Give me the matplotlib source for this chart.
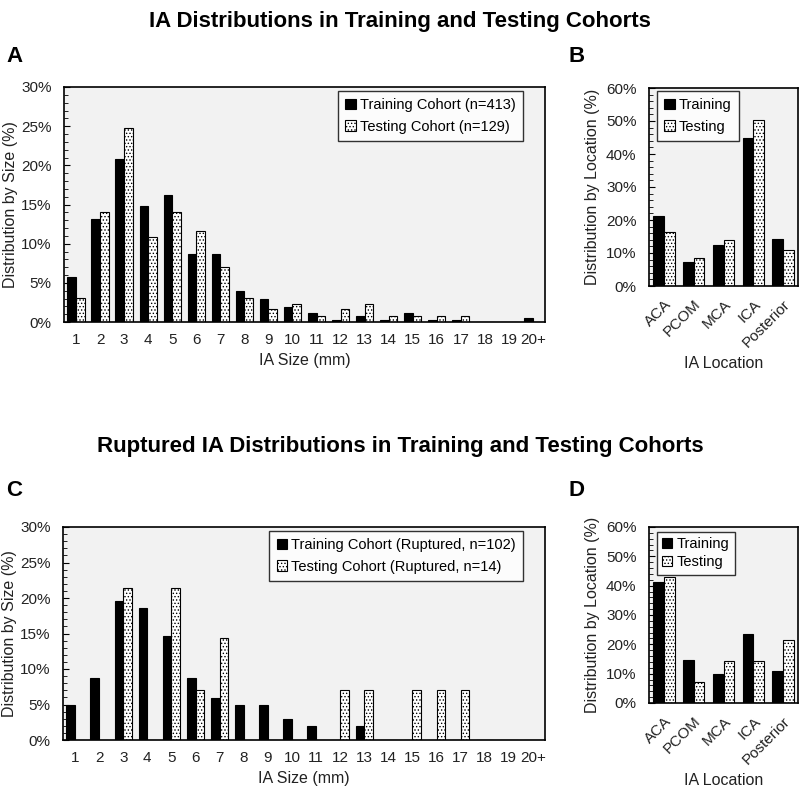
import numpy as np
import matplotlib
matplotlib.use("Agg")
import matplotlib.pyplot as plt
from matplotlib.ticker import MultipleLocator, PercentFormatter

plt.rcParams['font.family'] = ['Liberation Sans', 'DejaVu Sans']
plt.rcParams['hatch.linewidth'] = 0.6

# size bins
size_labels = [str(i) for i in range(1, 20)] + ["20+"]
loc_labels = ["ACA", "PCOM", "MCA", "ICA", "Posterior"]

# panel A: all IAs by size (%)
size_train = [5.8, 13.1, 20.8, 14.8, 16.2, 8.7, 8.7, 3.9, 2.9, 1.9,
              1.2, 0.24, 0.73, 0.24, 1.2, 0.24, 0.24, 0, 0, 0.48]
size_test = [3.1, 14.0, 24.8, 10.9, 14.0, 11.6, 7.0, 3.1, 1.6, 2.3,
             0.8, 1.6, 2.3, 0.8, 0.8, 0.8, 0.8, 0, 0, 0]

# panel B: all IAs by location (%)
loc_train = [21.3, 7.3, 12.3, 45.0, 14.1]
loc_test = [16.3, 8.5, 14.0, 50.4, 10.9]

# panel C: ruptured IAs by size (%)
rup_size_train = [4.9, 8.8, 19.6, 18.6, 14.7, 8.8, 5.9, 4.9, 4.9, 2.9,
                  2.0, 0, 2.0, 0, 0, 0, 0, 0, 0, 0]
rup_size_test = [0, 0, 21.4, 0, 21.4, 7.1, 14.3, 0, 0, 0,
                 0, 7.1, 7.1, 0, 7.1, 7.1, 7.1, 0, 0, 0]

# panel D: ruptured IAs by location (%)
rup_loc_train = [41.2, 14.7, 9.8, 23.5, 10.8]
rup_loc_test = [42.9, 7.1, 14.3, 14.3, 21.4]

W, H = 800, 789
fig = plt.figure(figsize=(W / 100, H / 100), dpi=100)


def px_axes(left, top, right, bottom):
    return fig.add_axes([left / W, 1 - bottom / H, (right - left) / W, (bottom - top) / H])


def bar_panel(ax, labels, train, test, ymax, major, minor, bw, names, leg_anchor,
              xlabel, ylabel, ylabelpad, rotate=False, compact=False):
    x = np.arange(len(labels))
    ax.set_facecolor('#f2f2f2')
    ax.bar(x - bw / 2, train, bw, color='black', edgecolor='black', linewidth=0.8,
           label=names[0], zorder=2)
    ax.bar(x + bw / 2, test, bw, color='white', edgecolor='black', linewidth=0.8,
           hatch='.....', label=names[1], zorder=2)
    ax.set_xlim(-0.5, len(labels) - 0.5)
    ax.set_ylim(0, ymax)
    ax.yaxis.set_major_locator(MultipleLocator(major))
    ax.yaxis.set_minor_locator(MultipleLocator(minor))
    ax.yaxis.set_major_formatter(PercentFormatter(decimals=0))
    ax.tick_params(axis='y', which='both', direction='in', labelsize=11, pad=9,
                   labelcolor='#222222')
    ax.tick_params(axis='y', which='major', length=4)
    ax.tick_params(axis='y', which='minor', length=3)
    ax.set_xticks(x)
    if rotate:
        ax.set_xticklabels(labels, rotation=45, ha='right', rotation_mode='anchor')
    else:
        ax.set_xticklabels(labels)
    ax.tick_params(axis='x', length=0, labelsize=11, pad=8, labelcolor='#222222')
    for s in ax.spines.values():
        s.set_linewidth(1.2)
    ax.set_xlabel(xlabel, fontsize=11.5, color='#222222')
    ax.set_ylabel(ylabel, fontsize=11.5, color='#222222', labelpad=ylabelpad)
    # rupture location legend is a bit tighter in the original
    spacing, bpad = (0.3, 0.35) if compact else (0.5, 0.5)
    leg = ax.legend(loc=leg_anchor[0], bbox_to_anchor=leg_anchor[1], fontsize=10.5,
                    frameon=True, fancybox=False, edgecolor='black',
                    handlelength=0.7, handleheight=0.7, handletextpad=0.3,
                    borderaxespad=0, labelspacing=spacing, borderpad=bpad)
    leg.get_frame().set_linewidth(1.0)
    return ax


axA = px_axes(64, 87, 545, 322)
bar_panel(axA, size_labels, size_train, size_test, 30, 5, 1, 0.36,
          ["Training Cohort (n=413)", "Testing Cohort (n=129)"],
          ('upper right', (1 - 22 / 481, 1 - 4 / 235)),
          "IA Size (mm)", "Distribution by Size (%)", 2)

axB = px_axes(649, 88, 798, 286)
bar_panel(axB, loc_labels, loc_train, loc_test, 60, 10, 2, 0.36,
          ["Training", "Testing"], ('upper left', (8 / 149, 1 - 3 / 198)),
          "IA Location", "Distribution by Location (%)", 4, rotate=True)

axC = px_axes(63, 527, 545, 740)
bar_panel(axC, size_labels, rup_size_train, rup_size_test, 30, 5, 1, 0.36,
          ["Training Cohort (Ruptured, n=102)", "Testing Cohort (Ruptured, n=14)"],
          ('upper right', (1 - 22 / 482, 1 - 4 / 213)),
          "IA Size (mm)", "Distribution by Size (%)", 2)

axD = px_axes(649, 527, 798, 703)
bar_panel(axD, loc_labels, rup_loc_train, rup_loc_test, 60, 10, 2, 0.36,
          ["Training", "Testing"], ('upper left', (8 / 149, 1 - 5 / 176)),
          "IA Location", "Distribution by Location (%)", 4, rotate=True, compact=True)

fig.text(0.5, 1 - 22 / H, "IA Distributions in Training and Testing Cohorts",
         ha='center', va='center', fontsize=16, fontweight='bold')
fig.text(0.5, 1 - 447 / H, "Ruptured IA Distributions in Training and Testing Cohorts",
         ha='center', va='center', fontsize=16, fontweight='bold')
for lab, xp, yp in [("A", 6, 56), ("B", 568, 56), ("C", 6, 490), ("D", 568, 490)]:
    fig.text(xp / W, 1 - yp / H, lab, ha='left', va='center', fontsize=16, fontweight='bold')

fig.savefig("out.png", dpi=100)
